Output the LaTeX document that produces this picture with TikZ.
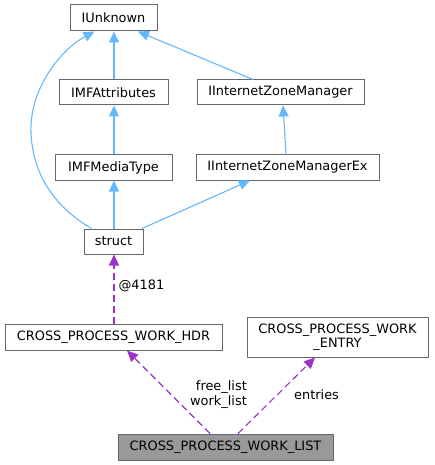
\documentclass[tikz,border=0pt]{standalone}
\usepackage{fontspec}
\setmainfont{DejaVu Sans}
\usetikzlibrary{arrows.meta}
\definecolor{boxborder}{HTML}{666666}
\definecolor{inhblue}{HTML}{63B8FF}
\definecolor{usepurple}{HTML}{9A32CD}
\definecolor{listfill}{HTML}{999999}
\begin{document}
\begin{tikzpicture}[x=1pt,y=-1pt,
  box/.style={draw=boxborder, fill=white, line width=1pt, inner sep=0pt, align=center,
    font=\fontsize{12.9}{14}\selectfont},
  inh/.style={draw=inhblue, line width=1.1pt, -{Triangle[length=11pt,width=10pt,fill=inhblue]}},
  usage/.style={draw=usepurple, line width=1.1pt, dash pattern=on 7pt off 4pt,
    -{Triangle[length=11pt,width=10pt,fill=usepurple]}},
  lbl/.style={inner sep=0pt, font=\fontsize{12.9}{15}\selectfont, align=right}]
\useasboundingbox (0,0) rectangle (434,465);

\node[box, minimum width=87pt, minimum height=26pt] (iunk) at (113.5,18) {IUnknown};
\node[box, minimum width=109pt, minimum height=25pt] (attr) at (113.5,92.5) {IMFAttributes};
\node[box, minimum width=167pt, minimum height=25pt] (izm) at (280.5,92.5) {IInternetZoneManager};
\node[box, minimum width=117pt, minimum height=25pt] (media) at (113.5,167.5) {IMFMediaType};
\node[box, minimum width=183pt, minimum height=25pt] (izmex) at (287.5,167.5) {IInternetZoneManagerEx};
\node[box, minimum width=59pt, minimum height=25pt] (struct) at (113.5,241.5) {struct};
\node[box, minimum width=217pt, minimum height=26pt] (hdr) at (113.5,337) {CROSS\_PROCESS\_WORK\_HDR};
\node[box, minimum width=181pt, minimum height=40pt] (entry) at (337.5,337) {CROSS\_PROCESS\_WORK\\\_ENTRY};
\node[box, fill=listfill, minimum width=215pt, minimum height=26pt] (list) at (225.5,447) {CROSS\_PROCESS\_WORK\_LIST};

\draw[inh] ([xshift=0.5pt]attr.north) -- ([xshift=0.5pt]iunk.south);
\draw[inh] ([xshift=-27.5pt]izm.north) -- ([xshift=24.5pt]iunk.south);
\draw[inh] ([xshift=-1.5pt]izmex.north) -- ([xshift=2.5pt]izm.south);
\draw[inh] ([xshift=0.5pt]media.north) -- ([xshift=0.5pt]attr.south);
\draw[inh] ([xshift=0.5pt]struct.north) -- ([xshift=0.5pt]media.south);
\draw[inh] ([xshift=-1.5pt]struct.north east) -- ([xshift=-37.5pt]izmex.south);
\draw[inh] ([xshift=8pt]struct.north west) .. controls (60,210) and (33,180) .. (31,133)
  .. controls (29,90) and (60,50) .. ([xshift=25pt]iunk.south west);

\draw[usage] ([xshift=0.5pt]hdr.north) -- ([xshift=0.5pt]struct.south) node[pos=0.55, lbl, anchor=west, xshift=4pt] {@4181};
\draw[usage] ([xshift=-15.5pt]list.north) -- ([xshift=13.5pt]hdr.south);
\draw[usage] ([xshift=12.5pt]list.north) -- ([xshift=-22.5pt]entry.south);

\node[lbl, anchor=east] (lblfree) at (247,394.5) {free\_list\\work\_list};
\node[lbl, anchor=west] (lblentries) at (294,395) {entries};
\end{tikzpicture}
\end{document}
